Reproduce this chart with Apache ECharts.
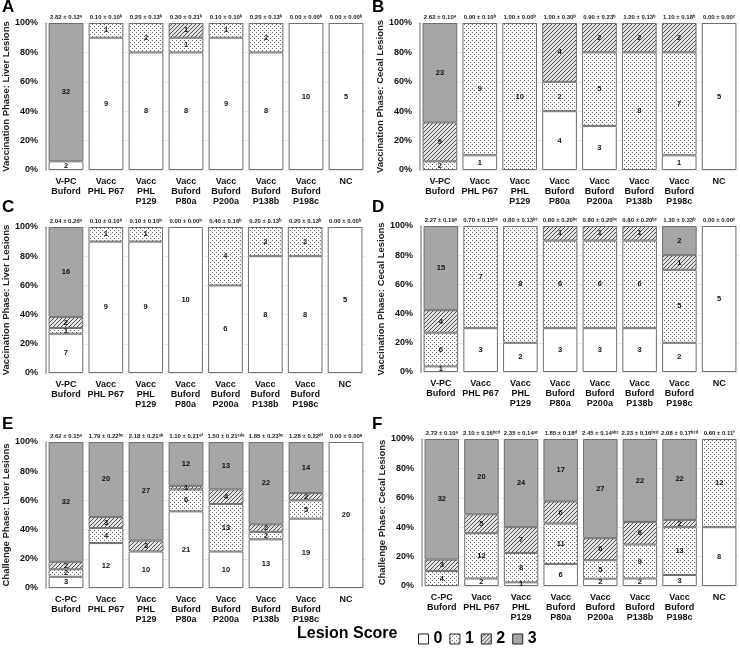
<!DOCTYPE html>
<html>
<head>
<meta charset="utf-8">
<script src="https://cdn.jsdelivr.net/npm/echarts@6/dist/echarts.min.js"></script>
<style>
html,body{margin:0;padding:0;background:#fff;}
#chart{width:740px;height:649px;}
</style>
</head>
<body>
<div id="chart"></div>
<script>
// ---- Data (counts of birds per lesion score) ----
const catsVacc = ['V-PC\nBuford','Vacc\nPHL P67','Vacc\nPHL\nP129','Vacc\nBuford\nP80a','Vacc\nBuford\nP200a','Vacc\nBuford\nP138b','Vacc\nBuford\nP198c','NC'];
const catsChal = ['C-PC\nBuford','Vacc\nPHL P67','Vacc\nPHL\nP129','Vacc\nBuford\nP80a','Vacc\nBuford\nP200a','Vacc\nBuford\nP138b','Vacc\nBuford\nP198c','NC'];
const scoreNames = ['0','1','2','3'];
const yTicks = [0,20,40,60,80,100];

// Panel A: Vaccination phase, liver
const A_s0 = [2, 9, 8, 8, 9, 8, 10, 5];
const A_s1 = [0, 1, 2, 1, 1, 2, 0, 0];
const A_s2 = [0, 0, 0, 1, 0, 0, 0, 0];
const A_s3 = [32, 0, 0, 0, 0, 0, 0, 0];
const A_top = ['2.82 ± 0.12ᵃ','0.10 ± 0.10ᵇ','0.20 ± 0.13ᵇ','0.30 ± 0.21ᵇ','0.10 ± 0.10ᵇ','0.20 ± 0.13ᵇ','0.00 ± 0.00ᵇ','0.00 ± 0.00ᵇ'];

// Panel B: Vaccination phase, cecal
const B_s0 = [0, 1, 0, 4, 3, 0, 1, 5];
const B_s1 = [2, 9, 10, 2, 5, 8, 7, 0];
const B_s2 = [9, 0, 0, 4, 2, 2, 2, 0];
const B_s3 = [23, 0, 0, 0, 0, 0, 0, 0];
const B_top = ['2.62 ± 0.10ᵃ','0.90 ± 0.10ᵇ','1.00 ± 0.00ᵇ','1.00 ± 0.30ᵇ','0.90 ± 0.23ᵇ','1.20 ± 0.13ᵇ','1.10 ± 0.18ᵇ','0.00 ± 0.00ᶜ'];

// Panel C: Vaccination phase, liver
const C_s0 = [7, 9, 9, 10, 6, 8, 8, 5];
const C_s1 = [1, 1, 1, 0, 4, 2, 2, 0];
const C_s2 = [2, 0, 0, 0, 0, 0, 0, 0];
const C_s3 = [16, 0, 0, 0, 0, 0, 0, 0];
const C_top = ['2.04 ± 0.26ᵃ','0.10 ± 0.10ᵇ','0.10 ± 0.10ᵇ','0.00 ± 0.00ᵇ','0.40 ± 0.16ᵇ','0.20 ± 0.13ᵇ','0.20 ± 0.13ᵇ','0.00 ± 0.00ᵇ'];

// Panel D: Vaccination phase, cecal
const D_s0 = [1, 3, 2, 3, 3, 3, 2, 5];
const D_s1 = [6, 7, 8, 6, 6, 6, 5, 0];
const D_s2 = [4, 0, 0, 1, 1, 1, 1, 0];
const D_s3 = [15, 0, 0, 0, 0, 0, 2, 0];
const D_top = ['2.27 ± 0.19ᵃ','0.70 ± 0.15ᵇᶜ','0.80 ± 0.13ᵇᶜ','0.80 ± 0.20ᵇᶜ','0.80 ± 0.20ᵇᶜ','0.80 ± 0.20ᵇᶜ','1.30 ± 0.33ᵇ','0.00 ± 0.00ᶜ'];

// Panel E: Challenge phase, liver
const E_s0 = [3, 12, 10, 21, 10, 13, 19, 20];
const E_s1 = [2, 4, 0, 6, 13, 2, 5, 0];
const E_s2 = [2, 3, 3, 1, 4, 2, 2, 0];
const E_s3 = [32, 20, 27, 12, 13, 22, 14, 0];
const E_top = ['2.62 ± 0.15ᵃ','1.79 ± 0.22ᵇᶜ','2.18 ± 0.21ᵃᵇ','1.10 ± 0.21ᵉᶠ','1.50 ± 0.21ᶜᵈᵉ','1.85 ± 0.23ᵇᶜ','1.28 ± 0.22ᵈᶠ','0.00 ± 0.00ᵍ'];

// Panel F: Challenge phase, cecal
const F_s0 = [0, 2, 1, 6, 2, 2, 3, 8];
const F_s1 = [4, 12, 8, 11, 5, 9, 13, 12];
const F_s2 = [3, 5, 7, 6, 6, 6, 2, 0];
const F_s3 = [32, 20, 24, 17, 27, 22, 22, 0];
const F_top = ['2.72 ± 0.10ᵃ','2.10 ± 0.16ᵇᶜᵈ','2.35 ± 0.14ᵃᶜ','1.85 ± 0.18ᵈ','2.45 ± 0.14ᵃᵇᶜ','2.23 ± 0.16ᵇᶜᵈ','2.08 ± 0.17ᵇᶜᵈ','0.60 ± 0.11ᶠ'];

// ---- Patterns ----
function makeDots(){
  const c=document.createElement('canvas'); c.width=4; c.height=4;
  const g=c.getContext('2d'); g.fillStyle='#ffffff'; g.fillRect(0,0,4,4);
  g.fillStyle='#6a6a6a'; g.fillRect(0,0,1,1); g.fillRect(2,2,1,1);
  return c;
}
function makeHatch(){
  const c=document.createElement('canvas'); c.width=4; c.height=4;
  const g=c.getContext('2d'); g.fillStyle='#e2e2e2'; g.fillRect(0,0,4,4);
  g.fillStyle='#505050';
  g.fillRect(3,0,1,1); g.fillRect(2,1,1,1); g.fillRect(1,2,1,1); g.fillRect(0,3,1,1);
  return c;
}
const fills = [
  '#ffffff',
  {image: makeDots(), repeat: 'repeat'},
  {image: makeHatch(), repeat: 'repeat'},
  '#a6a6a6'
];

const FONT = '"Liberation Sans", Arial, sans-serif';

const panels = [
  {letter:'A', cats:catsVacc, s:[A_s0,A_s1,A_s2,A_s3], top:A_top, yname:'Vaccination Phase: Liver Lesions', grid:{left:45, top:23, width:321, height:147}, lx:2, ly:-1},
  {letter:'B', cats:catsVacc, s:[B_s0,B_s1,B_s2,B_s3], top:B_top, yname:'Vaccination Phase: Cecal Lesions', grid:{left:420, top:23, width:319, height:147}, lx:372, ly:-1},
  {letter:'C', cats:catsVacc, s:[C_s0,C_s1,C_s2,C_s3], top:C_top, yname:'Vaccination Phase: Liver Lesions', grid:{left:43, top:227, width:322, height:146}, lx:2, ly:199},
  {letter:'D', cats:catsVacc, s:[D_s0,D_s1,D_s2,D_s3], top:D_top, yname:'Vaccination Phase: Cecal Lesions', grid:{left:421, top:226, width:318, height:146}, lx:372, ly:199},
  {letter:'E', cats:catsChal, s:[E_s0,E_s1,E_s2,E_s3], top:E_top, yname:'Challenge Phase: Liver Lesions', grid:{left:46, top:442, width:320, height:146}, lx:2, ly:416},
  {letter:'F', cats:catsChal, s:[F_s0,F_s1,F_s2,F_s3], top:F_top, yname:'Challenge Phase: Cecal Lesions', grid:{left:422, top:439, width:317, height:147}, lx:372, ly:416}
];

const grids=[], xAxes=[], yAxes=[], series=[], graphics=[];
panels.forEach((p, i) => {
  grids.push(Object.assign({containLabel:false}, p.grid));
  xAxes.push({
    type:'category', gridIndex:i, data:p.cats, position:'bottom',
    axisLine:{show:false}, axisTick:{show:false},
    axisLabel:{interval:0, margin:6, fontSize:9, fontWeight:'bold', color:'#111', lineHeight:10.3, fontFamily:FONT}
  });
  xAxes.push({
    type:'category', gridIndex:i, data:p.top, position:'top',
    axisLine:{show:false}, axisTick:{show:false},
    axisLabel:{interval:0, margin:3, fontSize:6, fontWeight:'bold', color:'#222', fontFamily:FONT}
  });
  yAxes.push({
    type:'value', gridIndex:i, min:yTicks[0], max:yTicks[yTicks.length-1], interval:20,
    name:p.yname, nameLocation:'middle', nameRotate:90, nameGap:35,
    nameTextStyle:{fontSize:9.5, fontWeight:'bold', color:'#222', fontFamily:FONT},
    axisLine:{show:true, lineStyle:{color:'#9a9a9a', width:1.5}},
    axisTick:{show:false},
    splitLine:{show:true, lineStyle:{color:'#ebebeb', width:1}},
    axisLabel:{formatter:'{value}%', fontSize:9, fontWeight:'bold', color:'#111', margin:8, fontFamily:FONT}
  });
  const totals = p.cats.map((_, k) => p.s[0][k]+p.s[1][k]+p.s[2][k]+p.s[3][k]);
  p.s.forEach((arr, si) => {
    series.push({
      name: scoreNames[si], type:'bar', xAxisIndex:2*i, yAxisIndex:i, stack:'st'+i,
      barCategoryGap:'13%',
      itemStyle:{color:fills[si], borderColor:'#6e6e6e', borderWidth:1},
      label:{show:true, position:'inside', fontSize:7.5, fontWeight:'bold', color:'#111', fontFamily:FONT,
        formatter: (prm) => { const c = arr[prm.dataIndex]; return c ? String(c) : ''; }},
      emphasis:{disabled:true},
      data: arr.map((c, k) => c ? c / totals[k] * 100 : null)
    });
  });
  graphics.push({type:'text', left:p.lx, top:p.ly, style:{text:p.letter, font:'bold 17px '+FONT, fill:'#000'}});
});

graphics.push({type:'text', left:297, top:626, style:{text:'Lesion Score', font:'bold 16px '+FONT, fill:'#000'}});

const chart = echarts.init(document.getElementById('chart'), null, {renderer:'canvas'});
chart.setOption({
  animation:false,
  backgroundColor:'#fff',
  grid:grids, xAxis:xAxes, yAxis:yAxes, series:series,
  legend:{
    data:scoreNames, left:413, top:626, icon:'rect', itemWidth:10, itemHeight:10, itemGap:7, itemTextGap:3,
    selectedMode:false,
    itemStyle:{borderColor:'#222', borderWidth:1},
    textStyle:{fontSize:16, fontWeight:'bold', color:'#000', fontFamily:FONT}
  },
  graphic:graphics
});
</script>
</body>
</html>
